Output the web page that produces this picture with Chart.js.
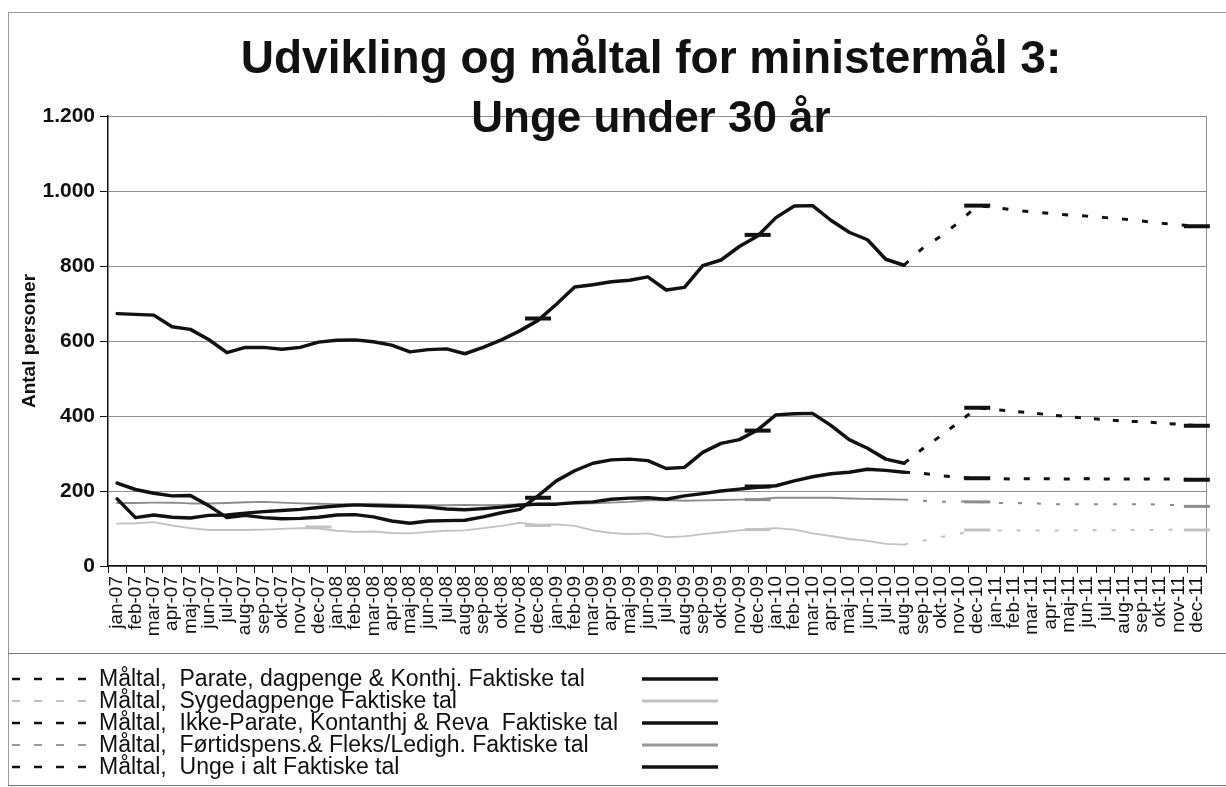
<!DOCTYPE html>
<html lang="da">
<head>
<meta charset="utf-8">
<title>Udvikling og måltal for ministermål 3</title>
<script src="https://cdn.jsdelivr.net/npm/chart.js@4.4.1/dist/chart.umd.min.js"></script>
<style>
  html, body { margin: 0; padding: 0; background: #fff; }
  #wrap { position: relative; width: 1226px; height: 787px; overflow: hidden;
          font-family: "Liberation Sans", Arial, sans-serif; color: #111; }
  #chart { position: absolute; left: 0; top: 0; }
  .frame { position: absolute; left: 8px; top: 12px; width: 1230px; height: 772px;
           border-left: 1px solid #9a9a9a; border-top: 1px solid #9a9a9a; }
  .title { position: absolute; left: 0; width: 1302px; text-align: center; font-weight: bold;
           white-space: nowrap; pointer-events: none; }
  #t1 { top: 34px; font-size: 46px; line-height: 46px; }
  #t2 { top: 95px; font-size: 44px; line-height: 44px; }
  #legend { position: absolute; left: 8px; top: 653px; width: 1230px; height: 131px;
            border-top: 1px solid #777; border-bottom: 1px solid #777; }
  .row { position: absolute; left: 0; height: 22px; width: 760px; }
  .row span { position: absolute; left: 91px; top: 0; font-size: 23px; line-height: 22px; white-space: pre; }
  .row svg { position: absolute; top: 0; }
</style>
</head>
<body>
<div id="wrap">
  <canvas id="chart" width="1226" height="787"></canvas>
  <div class="frame"></div>
  <div class="title" id="t1">Udvikling og måltal for ministermål 3:</div>
  <div class="title" id="t2">Unge under 30 år</div>
  <div id="legend"></div>
</div>
<script>
const _ = null;

const maaneder = [
  'jan-07','feb-07','mar-07','apr-07','maj-07','jun-07','jul-07','aug-07','sep-07','okt-07','nov-07','dec-07',
  'jan-08','feb-08','mar-08','apr-08','maj-08','jun-08','jul-08','aug-08','sep-08','okt-08','nov-08','dec-08',
  'jan-09','feb-09','mar-09','apr-09','maj-09','jun-09','jul-09','aug-09','sep-09','okt-09','nov-09','dec-09',
  'jan-10','feb-10','mar-10','apr-10','maj-10','jun-10','jul-10','aug-10','sep-10','okt-10','nov-10','dec-10',
  'jan-11','feb-11','mar-11','apr-11','maj-11','jun-11','jul-11','aug-11','sep-11','okt-11','nov-11','dec-11'
];

// faktiske tal, jan-07 .. aug-10
const ungeIalt = [673,671,669,638,631,604,569,583,583,578,583,597,
                  602,603,598,589,571,577,579,566,583,603,627,655,
                  698,744,750,758,762,771,736,743,801,816,852,880,
                  929,960,961,922,890,870,818,802];
const parate = [221,204,194,187,188,161,129,135,129,126,127,130,
                136,137,131,120,114,120,121,122,131,142,151,187,
                227,254,274,283,285,281,260,263,303,327,337,363,
                403,406,407,375,337,314,285,274];
const ikkeParate = [179,129,136,130,128,135,136,141,145,148,151,156,
                    160,163,161,160,159,157,152,150,153,157,162,165,
                    165,169,171,178,181,182,178,187,193,200,205,210,
                    214,227,238,246,250,258,255,250];
const sygedagpenge = [113,114,117,108,101,96,96,96,97,99,101,100,
                      94,91,92,88,87,91,94,95,101,107,115,110,
                      111,107,95,88,85,87,77,79,85,90,95,98,
                      101,97,87,80,72,67,59,57];
const foertidspens = [168,168,169,169,167,167,168,170,171,169,167,166,
                      165,165,166,164,163,162,162,163,162,163,165,166,
                      166,166,167,169,171,175,176,174,175,176,177,178,
                      182,182,182,182,180,179,178,177];

// måltal
const maalUngeIalt = [
  _,_,_,_,_,_,_,_,_,_,_,_,
  _,_,_,_,_,_,_,_,_,_,_,660,
  _,_,_,_,_,_,_,_,_,_,_,883,
  _,_,_,_,_,_,_,802,847,879,917,961,
  956,949,944,940,936,933,929,925,920,914,910,906
];
const maalParate = [
  _,_,_,_,_,_,_,_,_,_,_,_,
  _,_,_,_,_,_,_,_,_,_,_,_,
  _,_,_,_,_,_,_,_,_,_,_,361,
  _,_,_,_,_,_,_,274,312,347,384,422,
  417,412,408,403,398,394,390,386,385,381,378,374
];
const maalIkkeParate = [
  _,_,_,_,_,_,_,_,_,_,_,_,
  _,_,_,_,_,_,_,_,_,_,_,182,
  _,_,_,_,_,_,_,_,_,_,_,212,
  _,_,_,_,_,_,_,250,247,241,236,234,
  233,232,233,233,232,233,232,232,232,232,232,230
];
const maalSyge = [
  _,_,_,_,_,_,_,_,_,_,_,104,
  _,_,_,_,_,_,_,_,_,_,_,108,
  _,_,_,_,_,_,_,_,_,_,_,97,
  _,_,_,_,_,_,_,57,67,77,86,96,
  95,95,95,95,95,96,95,96,96,96,97,96
];
const maalFoertid = [
  _,_,_,_,_,_,_,_,_,_,_,_,
  _,_,_,_,_,_,_,_,_,_,_,_,
  _,_,_,_,_,_,_,_,_,_,_,177,
  _,_,_,_,_,_,_,177,174,171,172,171,
  168,168,167,165,165,165,165,165,165,164,162,159
];

const yMax = 1200;
const yStep = 200;

const legendTekster = [
  'Måltal,  Parate, dagpenge & Konthj. Faktiske tal',
  'Måltal,  Sygedagpenge Faktiske tal',
  'Måltal,  Ikke-Parate, Kontanthj & Reva  Faktiske tal',
  'Måltal,  Førtidspens.& Fleks/Ledigh. Faktiske tal',
  'Måltal,  Unge i alt Faktiske tal'
];
const legendFarver = ['#111', '#c2c2c2', '#111', '#9a9a9a', '#111'];

const BLACK = '#111';
const LIGHT = '#c2c2c2';
const GREY = '#8c8c8c';
const decMaaneder = [11, 23, 35, 47, 59];

function faktisk(label, data, color, width) {
  return { label, data, borderColor: color, borderWidth: width, pointRadius: 0,
           fill: false, tension: 0, borderJoinStyle: 'round', borderCapStyle: 'round' };
}

function maal(label, data, color, width, dash) {
  return {
    label, data, borderColor: color, backgroundColor: color, borderWidth: width,
    borderDash: dash, fill: false, tension: 0, spanGaps: false,
    pointStyle: 'line', pointBorderColor: color, pointBorderWidth: width + 1,
    pointRadius: ctx => decMaaneder.includes(ctx.dataIndex) ? 13 : 0
  };
}

function tusind(v) {
  return String(v).replace(/\B(?=(\d{3})+(?!\d))/g, '.');
}

const rammePlugin = {
  id: 'ramme',
  beforeDatasetsDraw(chart) {
    const { ctx, chartArea: a } = chart;
    ctx.save();
    ctx.strokeStyle = '#8f8f8f';
    ctx.lineWidth = 1;
    ctx.beginPath();
    ctx.moveTo(a.right + 0.5, a.top);
    ctx.lineTo(a.right + 0.5, a.bottom);
    ctx.stroke();
    ctx.restore();
  }
};

const font = '"Liberation Sans", Arial, sans-serif';

new Chart(document.getElementById('chart'), {
  type: 'line',
  data: {
    labels: maaneder,
    datasets: [
      faktisk('Unge i alt Faktiske tal', ungeIalt, BLACK, 3.5),
      faktisk('Parate, dagpenge & Konthj. Faktiske tal', parate, BLACK, 3.5),
      faktisk('Ikke-Parate, Kontanthj & Reva Faktiske tal', ikkeParate, BLACK, 3.5),
      faktisk('Førtidspens.& Fleks/Ledigh. Faktiske tal', foertidspens, GREY, 2),
      faktisk('Sygedagpenge Faktiske tal', sygedagpenge, LIGHT, 2),
      maal('Måltal, Unge i alt', maalUngeIalt, BLACK, 3, [6, 14]),
      maal('Måltal, Parate, dagpenge & Konthj.', maalParate, BLACK, 3, [6, 13]),
      maal('Måltal, Ikke-Parate, Kontanthj & Reva', maalIkkeParate, BLACK, 3, [6, 14]),
      maal('Måltal, Førtidspens.& Fleks/Ledigh.', maalFoertid, GREY, 2, [4, 15]),
      maal('Måltal, Sygedagpenge', maalSyge, LIGHT, 2, [4, 15])
    ]
  },
  options: {
    responsive: false,
    animation: false,
    events: [],
    devicePixelRatio: 1,
    layout: { padding: { top: 116, right: 20, bottom: 137, left: 0 } },
    plugins: {
      legend: { display: false },
      title: { display: false },
      tooltip: { enabled: false }
    },
    scales: {
      x: {
        type: 'category',
        offset: true,
        grid: { offset: true, drawOnChartArea: false, drawTicks: true, tickLength: 7, color: BLACK },
        border: { color: BLACK, width: 1.5 },
        ticks: { autoSkip: false, maxRotation: 90, minRotation: 90, padding: 3,
                 color: BLACK, font: { family: font, size: 19 } },
        afterFit: s => { s.height = 84; }
      },
      y: {
        min: 0,
        max: yMax,
        ticks: { stepSize: yStep, padding: 5, color: BLACK, callback: v => tusind(v),
                 font: { family: font, size: 21, weight: 'bold' } },
        grid: { color: '#8f8f8f', lineWidth: 1, tickLength: 8, tickColor: BLACK },
        border: { color: BLACK, width: 1.5 },
        title: { display: true, text: 'Antal personer', color: BLACK,
                 font: { family: font, size: 19, weight: 'bold' }, padding: { top: 18, bottom: 0 } },
        afterFit: s => { s.width = 108; }
      }
    }
  },
  plugins: [rammePlugin]
});

// legend: stiplet måltal-prøve, tekst, fuldt optrukket faktisk-prøve
const legend = document.getElementById('legend');
legendTekster.forEach((tekst, i) => {
  const row = document.createElement('div');
  row.className = 'row';
  row.style.top = (13 + i * 22) + 'px';
  const farve = legendFarver[i];
  const tyk = farve === BLACK ? 2.5 : 2;
  row.innerHTML =
    '<svg width="82" height="22" style="left:4px"><line x1="0" y1="12" x2="82" y2="12" stroke="' + farve +
    '" stroke-width="' + tyk + '" stroke-dasharray="8 14"/></svg>' +
    '<span>' + tekst + '</span>' +
    '<svg width="76" height="22" style="left:634px"><line x1="0" y1="12" x2="76" y2="12" stroke="' + farve +
    '" stroke-width="' + (tyk + 1) + '"/></svg>';
  legend.appendChild(row);
});
</script>
</body>
</html>
